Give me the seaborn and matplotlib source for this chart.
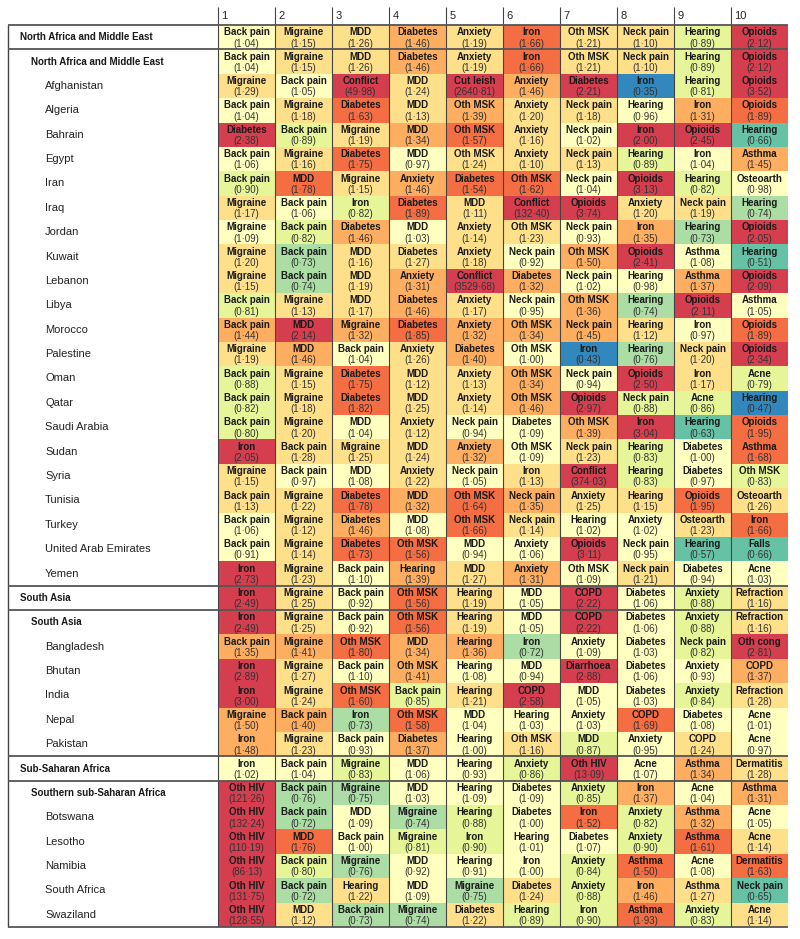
import matplotlib
matplotlib.use("Agg")
import matplotlib.pyplot as plt
from matplotlib.colors import ListedColormap, BoundaryNorm
from matplotlib import transforms
import numpy as np
import pandas as pd
import seaborn as sns

sns.set_style("white")
plt.rcParams['font.family'] = ['Liberation Sans Narrow', 'Liberation Sans', 'DejaVu Sans']

# Row labels and indent level (0 = super-region, 1 = region, 2 = country)
labels_name = ["North Africa and Middle East", "North Africa and Middle East",
               "Afghanistan", "Algeria", "Bahrain", "Egypt", "Iran", "Iraq", "Jordan",
               "Kuwait", "Lebanon", "Libya", "Morocco", "Palestine", "Oman", "Qatar",
               "Saudi Arabia", "Sudan", "Syria", "Tunisia", "Turkey",
               "United Arab Emirates", "Yemen"]
labels_sasia = ["South Asia", "South Asia", "Bangladesh", "Bhutan", "India", "Nepal", "Pakistan"]
labels_ssa = ["Sub-Saharan Africa", "Southern sub-Saharan Africa", "Botswana", "Lesotho",
              "Namibia", "South Africa", "Swaziland"]

# Ranked causes (1-10) for each row
causes_name = [
    ["Back pain", "Migraine", "MDD", "Diabetes", "Anxiety", "Iron", "Oth MSK", "Neck pain", "Hearing", "Opioids"],
    ["Back pain", "Migraine", "MDD", "Diabetes", "Anxiety", "Iron", "Oth MSK", "Neck pain", "Hearing", "Opioids"],
    ["Migraine", "Back pain", "Conflict", "MDD", "Cut leish", "Anxiety", "Diabetes", "Iron", "Hearing", "Opioids"],
    ["Back pain", "Migraine", "Diabetes", "MDD", "Oth MSK", "Anxiety", "Neck pain", "Hearing", "Iron", "Opioids"],
    ["Diabetes", "Back pain", "Migraine", "MDD", "Oth MSK", "Anxiety", "Neck pain", "Iron", "Opioids", "Hearing"],
    ["Back pain", "Migraine", "Diabetes", "MDD", "Oth MSK", "Anxiety", "Neck pain", "Hearing", "Iron", "Asthma"],
    ["Back pain", "MDD", "Migraine", "Anxiety", "Diabetes", "Oth MSK", "Neck pain", "Opioids", "Hearing", "Osteoarth"],
    ["Migraine", "Back pain", "Iron", "Diabetes", "MDD", "Conflict", "Opioids", "Anxiety", "Neck pain", "Hearing"],
    ["Migraine", "Back pain", "Diabetes", "MDD", "Anxiety", "Oth MSK", "Neck pain", "Iron", "Hearing", "Opioids"],
    ["Migraine", "Back pain", "MDD", "Diabetes", "Anxiety", "Neck pain", "Oth MSK", "Opioids", "Asthma", "Hearing"],
    ["Migraine", "Back pain", "MDD", "Anxiety", "Conflict", "Diabetes", "Neck pain", "Hearing", "Asthma", "Opioids"],
    ["Back pain", "Migraine", "MDD", "Diabetes", "Anxiety", "Neck pain", "Oth MSK", "Hearing", "Opioids", "Asthma"],
    ["Back pain", "MDD", "Migraine", "Diabetes", "Anxiety", "Oth MSK", "Neck pain", "Hearing", "Iron", "Opioids"],
    ["Migraine", "MDD", "Back pain", "Anxiety", "Diabetes", "Oth MSK", "Iron", "Hearing", "Neck pain", "Opioids"],
    ["Back pain", "Migraine", "Diabetes", "MDD", "Anxiety", "Oth MSK", "Neck pain", "Opioids", "Iron", "Acne"],
    ["Back pain", "Migraine", "Diabetes", "MDD", "Anxiety", "Oth MSK", "Opioids", "Neck pain", "Acne", "Hearing"],
    ["Back pain", "Migraine", "MDD", "Anxiety", "Neck pain", "Diabetes", "Oth MSK", "Iron", "Hearing", "Opioids"],
    ["Iron", "Back pain", "Migraine", "MDD", "Anxiety", "Oth MSK", "Neck pain", "Hearing", "Diabetes", "Asthma"],
    ["Migraine", "Back pain", "MDD", "Anxiety", "Neck pain", "Iron", "Conflict", "Hearing", "Diabetes", "Oth MSK"],
    ["Back pain", "Migraine", "Diabetes", "MDD", "Oth MSK", "Neck pain", "Anxiety", "Hearing", "Opioids", "Osteoarth"],
    ["Back pain", "Migraine", "Diabetes", "MDD", "Oth MSK", "Neck pain", "Hearing", "Anxiety", "Osteoarth", "Iron"],
    ["Back pain", "Migraine", "Diabetes", "Oth MSK", "MDD", "Anxiety", "Opioids", "Neck pain", "Hearing", "Falls"],
    ["Iron", "Migraine", "Back pain", "Hearing", "MDD", "Anxiety", "Oth MSK", "Neck pain", "Diabetes", "Acne"],
]
causes_sasia = [
    ["Iron", "Migraine", "Back pain", "Oth MSK", "Hearing", "MDD", "COPD", "Diabetes", "Anxiety", "Refraction"],
    ["Iron", "Migraine", "Back pain", "Oth MSK", "Hearing", "MDD", "COPD", "Diabetes", "Anxiety", "Refraction"],
    ["Back pain", "Migraine", "Oth MSK", "MDD", "Hearing", "Iron", "Anxiety", "Diabetes", "Neck pain", "Oth cong"],
    ["Iron", "Migraine", "Back pain", "Oth MSK", "Hearing", "MDD", "Diarrhoea", "Diabetes", "Anxiety", "COPD"],
    ["Iron", "Migraine", "Oth MSK", "Back pain", "Hearing", "COPD", "MDD", "Diabetes", "Anxiety", "Refraction"],
    ["Migraine", "Back pain", "Iron", "Oth MSK", "MDD", "Hearing", "Anxiety", "COPD", "Diabetes", "Acne"],
    ["Iron", "Migraine", "Back pain", "Diabetes", "Hearing", "Oth MSK", "MDD", "Anxiety", "COPD", "Acne"],
]
causes_ssa = [
    ["Iron", "Back pain", "Migraine", "MDD", "Hearing", "Anxiety", "Oth HIV", "Acne", "Asthma", "Dermatitis"],
    ["Oth HIV", "Back pain", "Migraine", "MDD", "Hearing", "Diabetes", "Anxiety", "Iron", "Acne", "Asthma"],
    ["Oth HIV", "Back pain", "MDD", "Migraine", "Hearing", "Diabetes", "Iron", "Anxiety", "Asthma", "Acne"],
    ["Oth HIV", "MDD", "Back pain", "Migraine", "Iron", "Hearing", "Diabetes", "Anxiety", "Asthma", "Acne"],
    ["Oth HIV", "Back pain", "Migraine", "MDD", "Hearing", "Iron", "Anxiety", "Asthma", "Acne", "Dermatitis"],
    ["Oth HIV", "Back pain", "Hearing", "MDD", "Migraine", "Diabetes", "Anxiety", "Iron", "Asthma", "Neck pain"],
    ["Oth HIV", "MDD", "Back pain", "Migraine", "Diabetes", "Hearing", "Iron", "Asthma", "Anxiety", "Acne"],
]

# Observed / expected ratios shown in brackets
# (a few values sit right on a colour break; the colour says which side)
ratios_name = [
    [1.04, 1.15, 1.26, 1.46, 1.19, 1.66, 1.21, 1.10, 0.89, 2.12],
    [1.04, 1.15, 1.26, 1.46, 1.19, 1.66, 1.21, 1.10, 0.89, 2.12],
    [1.29, 1.05, 49.98, 1.24, 2640.81, 1.46, 2.21, 0.35, 0.81, 3.52],
    [1.04, 1.18, 1.63, 1.13, 1.39, 1.20, 1.18, 0.96, 1.31, 1.89],
    [2.38, 0.89, 1.19, 1.34, 1.57, 1.16, 1.02, 2.00, 2.45, 0.66],
    [1.06, 1.16, 1.75, 0.97, 1.24, 1.10, 1.13, 0.89, 1.04, 1.45],
    [0.90, 1.78, 1.15, 1.46, 1.54, 1.62, 1.04, 3.13, 0.82, 0.98],
    [1.17, 1.06, 0.82, 1.89, 1.11, 132.40, 3.74, 1.20, 1.19, 0.74],
    [1.09, 0.82, 1.46, 1.03, 1.14, 1.23, 0.93, 1.35, 0.73, 2.05],
    [1.20, 0.73, 1.16, 1.27, 1.18, 0.92, 1.497, 2.41, 1.08, 0.51],
    [1.15, 0.74, 1.19, 1.31, 3529.68, 1.32, 1.02, 0.98, 1.37, 2.09],
    [0.81, 1.13, 1.17, 1.46, 1.17, 0.95, 1.36, 0.74, 2.11, 1.05],
    [1.44, 2.14, 1.32, 1.85, 1.32, 1.34, 1.45, 1.12, 0.97, 1.89],
    [1.19, 1.46, 1.04, 1.26, 1.40, 1.00, 0.43, 0.76, 1.20, 2.34],
    [0.88, 1.15, 1.75, 1.12, 1.13, 1.34, 0.94, 2.50, 1.17, 0.79],
    [0.82, 1.18, 1.82, 1.25, 1.14, 1.46, 2.97, 0.88, 0.86, 0.47],
    [0.80, 1.20, 1.04, 1.12, 0.94, 1.09, 1.39, 3.04, 0.63, 1.95],
    [2.05, 1.28, 1.25, 1.24, 1.32, 1.09, 1.23, 0.83, 1.00, 1.68],
    [1.15, 0.97, 1.08, 1.22, 1.05, 1.13, 374.03, 0.83, 0.97, 0.83],
    [1.13, 1.22, 1.78, 1.32, 1.64, 1.35, 1.25, 1.15, 1.95, 1.26],
    [1.06, 1.12, 1.46, 1.08, 1.66, 1.14, 1.02, 1.02, 1.23, 1.66],
    [0.91, 1.14, 1.73, 1.56, 0.94, 1.06, 3.11, 0.95, 0.57, 0.66],
    [2.73, 1.23, 1.097, 1.39, 1.27, 1.31, 1.09, 1.21, 0.94, 1.03],
]
ratios_sasia = [
    [2.49, 1.25, 0.92, 1.56, 1.19, 1.05, 2.22, 1.06, 0.88, 1.16],
    [2.49, 1.25, 0.92, 1.56, 1.19, 1.05, 2.22, 1.06, 0.88, 1.16],
    [1.35, 1.41, 1.80, 1.34, 1.36, 0.72, 1.09, 1.03, 0.82, 2.81],
    [2.89, 1.27, 1.097, 1.41, 1.08, 0.94, 2.88, 1.06, 0.93, 1.37],
    [3.00, 1.24, 1.60, 0.85, 1.21, 2.58, 1.05, 1.03, 0.84, 1.28],
    [1.497, 1.40, 0.73, 1.58, 1.04, 1.03, 1.03, 1.69, 1.08, 1.01],
    [1.48, 1.23, 0.93, 1.37, 1.00, 1.16, 0.87, 0.95, 1.24, 0.97],
]
ratios_ssa = [
    [1.02, 1.04, 0.83, 1.06, 0.93, 0.86, 13.09, 1.07, 1.34, 1.28],
    [121.26, 0.76, 0.75, 1.03, 1.09, 1.09, 0.85, 1.37, 1.04, 1.31],
    [132.24, 0.72, 1.09, 0.74, 0.88, 1.00, 1.52, 0.82, 1.32, 1.05],
    [110.19, 1.76, 1.00, 0.81, 0.90, 1.01, 1.07, 0.90, 1.61, 1.14],
    [86.13, 0.80, 0.76, 0.92, 0.91, 1.00, 0.84, 1.50, 1.08, 1.63],
    [131.75, 0.72, 1.22, 1.09, 0.75, 1.24, 0.88, 1.46, 1.27, 0.65],
    [128.55, 1.12, 0.73, 0.74, 1.22, 0.89, 0.90, 1.93, 0.83, 1.14],
]

row_labels = labels_name + labels_sasia + labels_ssa
levels = [0, 1] + [2] * 21 + [0, 1] + [2] * 5 + [0, 1] + [2] * 5
causes = causes_name + causes_sasia + causes_ssa
ratios = pd.DataFrame(ratios_name + ratios_sasia + ratios_ssa, columns=range(1, 11))
n_rows = len(row_labels)

# binned colours, symmetric in ratio around 1
colors = ["#3288bd", "#66c2a5", "#abdda4", "#e6f598", "#ffffbf",
          "#fee08b", "#fdae61", "#f46d43", "#d53e4f"]
bounds = [0, 0.5, 1 / 1.5, 1 / 1.3, 1 / 1.1, 1.1, 1.3, 1.5, 2.0, 1e5]
cmap = ListedColormap(colors)
norm = BoundaryNorm(bounds, cmap.N)

W, H = 800, 939
left_px, right_px, top_px, bottom_px = 218, 788, 25, 927
fig = plt.figure(figsize=(W / 100, H / 100), dpi=100)
ax = fig.add_axes([left_px / W, 1 - bottom_px / H,
                   (right_px - left_px) / W, (bottom_px - top_px) / H])

sns.heatmap(ratios, cmap=cmap, norm=norm, cbar=False, ax=ax,
            xticklabels=False, yticklabels=False)

# cell texts
for i in range(n_rows):
    for j in range(10):
        ax.text(j + 0.5, i + 0.3, causes[i][j], ha='center', va='center',
                fontsize=7, fontweight='bold', color='#1a1a1a')
        val = f"({ratios.iloc[i, j]:.2f})".replace('.', '\u00b7')
        ax.text(j + 0.5, i + 0.76, val, ha='center', va='center',
                fontsize=7, color='#333333')

# column numbers
for j in range(10):
    ax.text(j + 0.06, -0.38, str(j + 1), ha='left', va='center',
            fontsize=8, clip_on=False)

# row labels
tr = transforms.blended_transform_factory(fig.transFigure, ax.transData)
indent = {0: 20, 1: 31, 2: 45}
for i, (lab, lev) in enumerate(zip(row_labels, levels)):
    if lev < 2:
        ax.text(indent[lev] / W, i + 0.5, lab, transform=tr, ha='left', va='center',
                fontsize=7, fontweight='bold', color='#1a1a1a')
    else:
        ax.text(indent[lev] / W, i + 0.5, lab, transform=tr, ha='left', va='center',
                fontsize=8, color='#222222')

# grid lines
left_ext = -(left_px - 8) / ((right_px - left_px) / 10)
ax.vlines(range(10), -0.75, n_rows, colors='#444444', linewidth=0.8, clip_on=False)
ax.vlines(left_ext, 0, n_rows, colors='#444444', linewidth=1.0, clip_on=False)
ax.hlines([0, 1, 23, 24, 30, 31, n_rows], left_ext, 10, colors='#555555',
          linewidth=1.3, clip_on=False)

fig.savefig('out.png', dpi=100)
